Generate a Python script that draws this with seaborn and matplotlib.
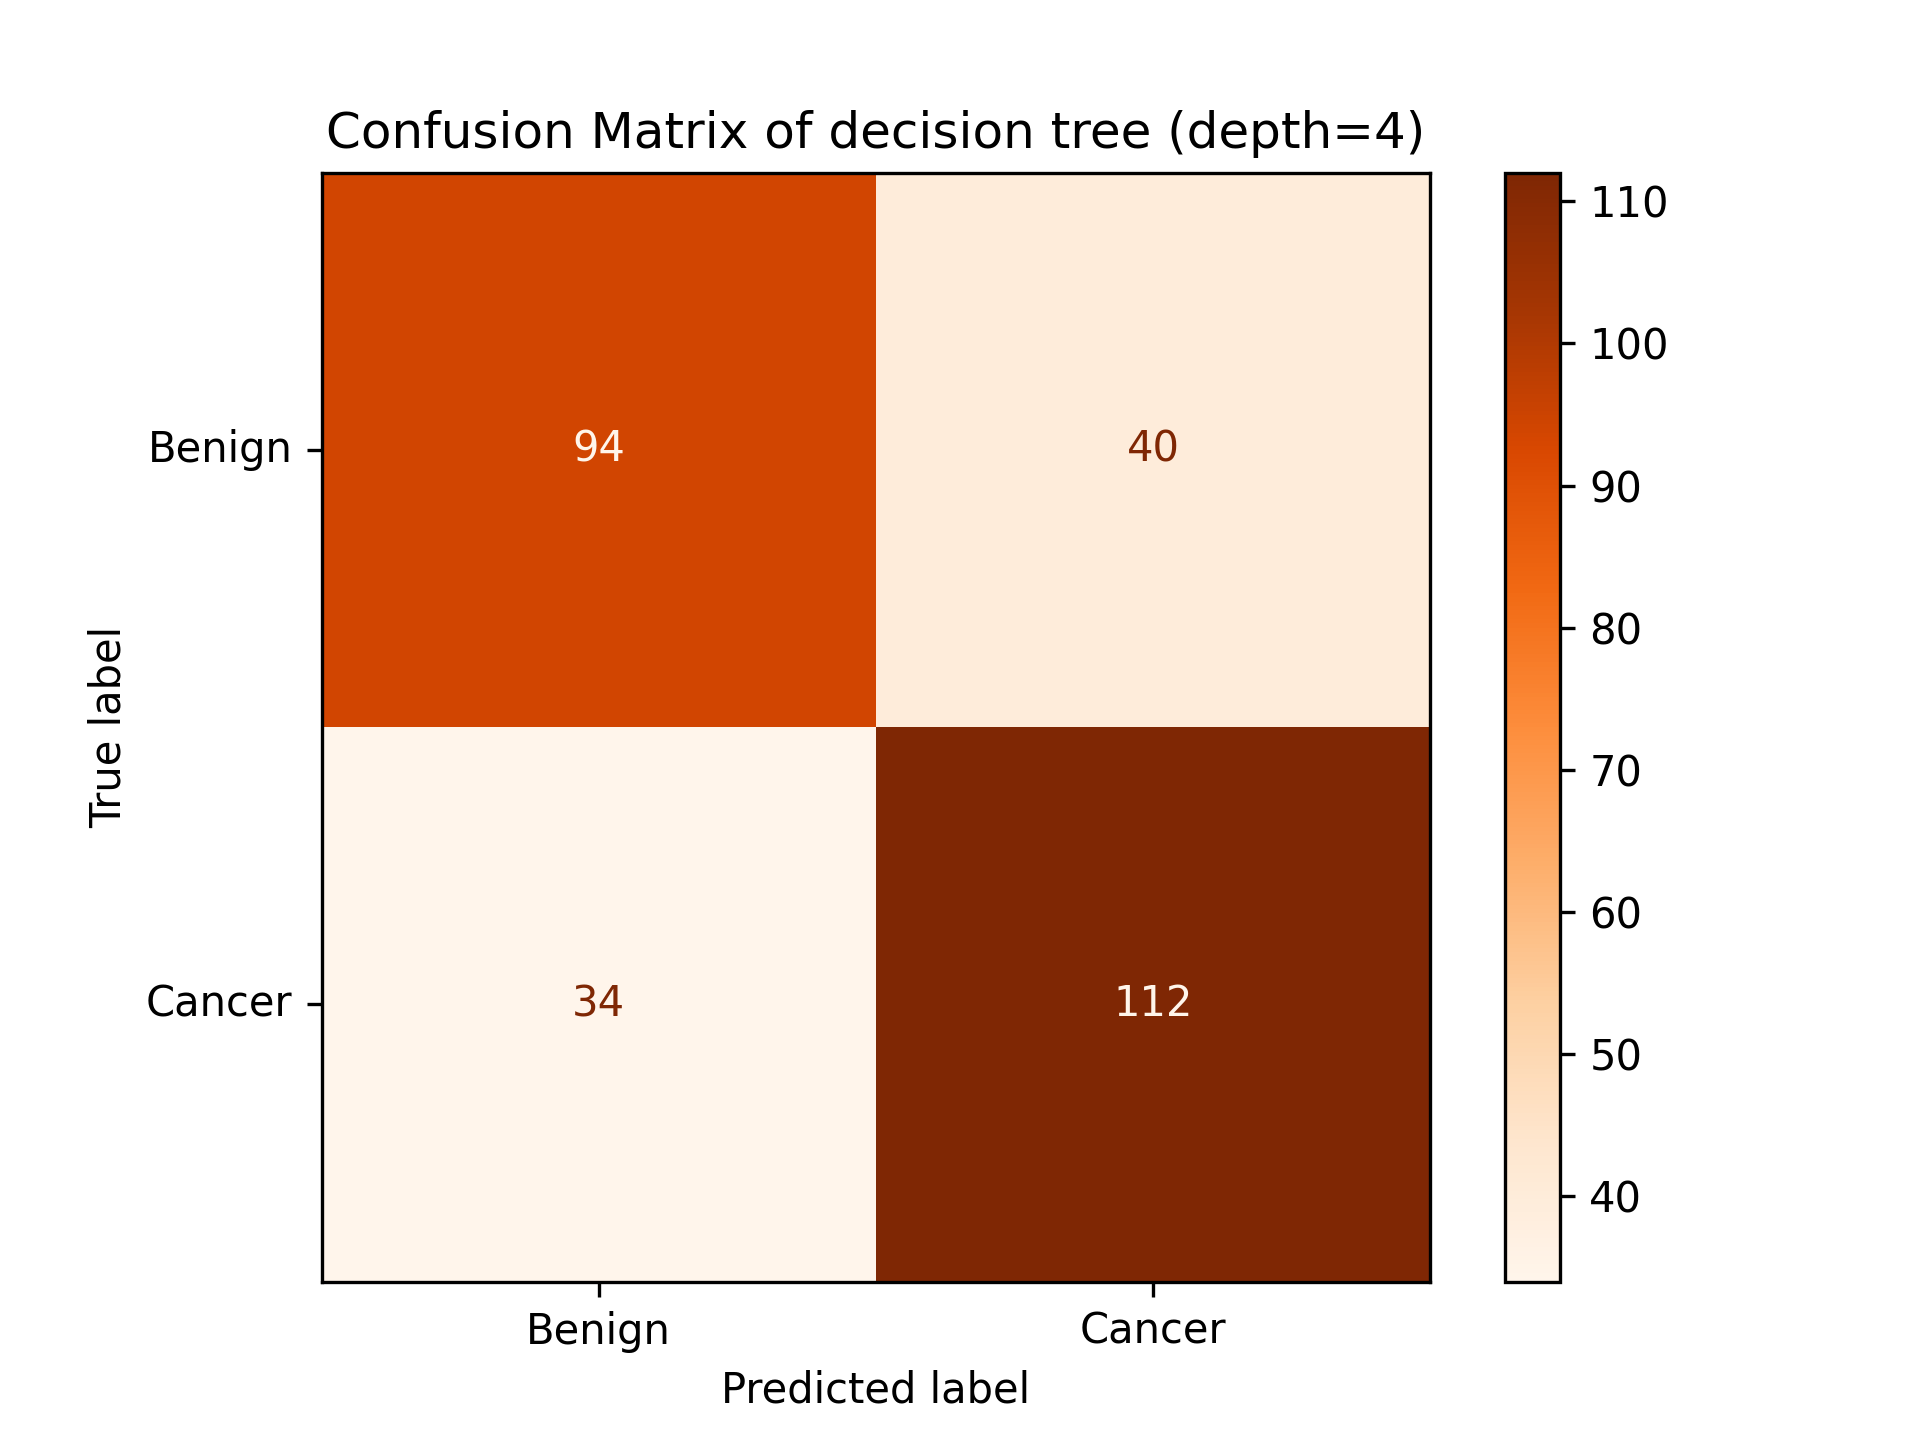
import matplotlib
matplotlib.use("Agg")
import matplotlib.pyplot as plt
import seaborn as sns
import numpy as np

labels = ["Benign", "Cancer"]
row_benign = [94, 40]
row_cancer = [34, 112]
cm = np.array([row_benign, row_cancer])

fig, ax = plt.subplots(figsize=(6.4, 4.8), dpi=300)
cmap = plt.get_cmap("Oranges")
sns.heatmap(cm, ax=ax, cmap=cmap, square=True, annot=False, cbar=True,
            xticklabels=labels, yticklabels=labels,
            cbar_kws={"fraction": 0.15, "pad": 0.05})
vmin, vmax = cm.min(), cm.max()
thresh = (vmin + vmax) / 2
for i in range(cm.shape[0]):
    for j in range(cm.shape[1]):
        c = cmap(0.0) if cm[i, j] > thresh else cmap(1.0)
        ax.text(j + 0.5, i + 0.5, str(cm[i, j]), ha="center", va="center", color=c, fontsize=10)
for s in ax.spines.values():
    s.set_visible(True)
    s.set_linewidth(0.8)
ax.tick_params(length=3.5, width=0.8, labelsize=10)
ax.set_yticklabels(labels, rotation=0)
ax.set_xticklabels(labels, rotation=0)
ax.set_xlabel("Predicted label")
ax.set_ylabel("True label")
ax.set_title("Confusion Matrix of decision tree (depth=4)")
cbar = ax.collections[0].colorbar
cbar.outline.set_visible(True)
cbar.outline.set_linewidth(0.8)
cbar.ax.tick_params(length=3.5, width=0.8, labelsize=10)
fig.savefig("out.png", dpi=300)
